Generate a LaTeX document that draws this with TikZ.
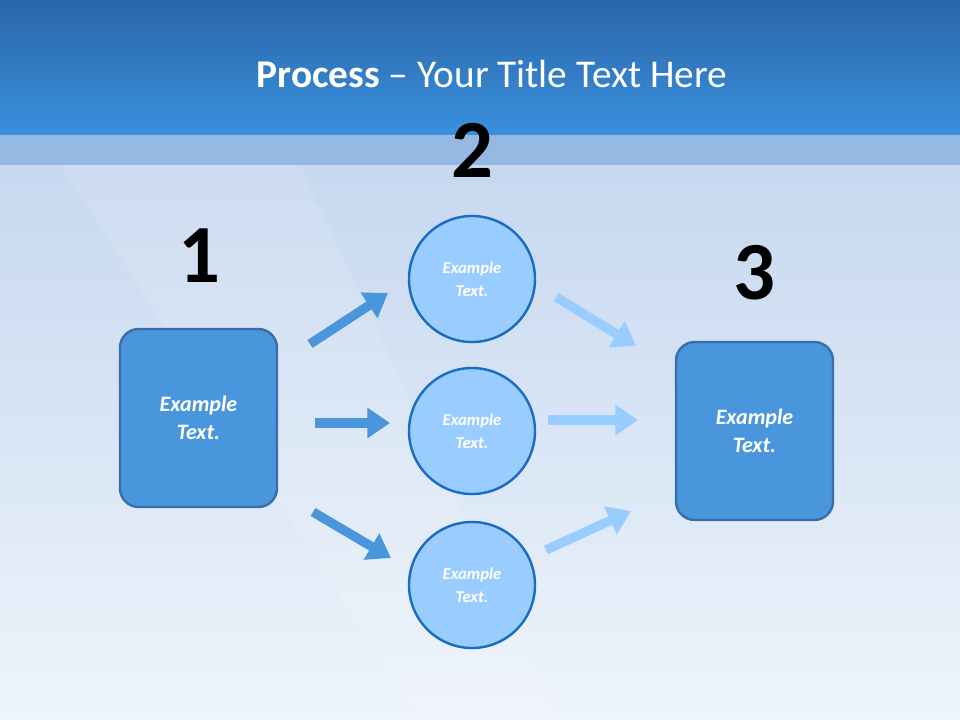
\documentclass[tikz,border=0pt]{standalone}
\usepackage{fontspec}
\setmainfont{Carlito}
\usetikzlibrary{arrows.meta}
\definecolor{hdtop}{HTML}{2A66A8}
\definecolor{hdbot}{HTML}{3A90DE}
\definecolor{band}{HTML}{96B9E4}
\definecolor{bgA}{HTML}{C4D6EF}
\definecolor{bgB}{HTML}{EEF4FB}
\definecolor{boxfill}{HTML}{4A96DC}
\definecolor{boxline}{HTML}{3A6EA8}
\definecolor{circfill}{HTML}{99CCFF}
\definecolor{circline}{HTML}{1A6BC4}
\tikzset{
  sqbox/.style={draw=boxline,line width=1.8pt,fill=boxfill,rounded corners=14pt,minimum width=117.75pt,minimum height=133.5pt,align=center,text=white,font=\bfseries\itshape\fontsize{16.5}{21}\selectfont},
  circ/.style={circle,draw=circline,line width=1.8pt,fill=circfill,minimum size=94.5pt,align=center,text=white,font=\bfseries\itshape\fontsize{12.5}{17}\selectfont},
  num/.style={font=\bfseries\fontsize{62}{66}\selectfont,text=black},
  darr/.style={line width=7pt,draw=boxfill,-{Triangle[length=17pt,width=22pt]}},
  larr/.style={line width=7pt,draw=circfill,-{Triangle[length=17pt,width=22pt]}}
}
\begin{document}
\begin{tikzpicture}[x=0.75pt,y=-0.75pt]
\useasboundingbox (0,0) rectangle (960,720);
\shade[top color=bgA,bottom color=bgB] (0,135) rectangle (960,720);
\fill[white,opacity=0.12] (60,165) -- (300,165) -- (560,720) -- (420,720) -- cycle;
\fill[band] (0,135) rectangle (960,165);
\shade[top color=hdtop,bottom color=hdbot] (0,0) rectangle (960,135);
\node[text=white,font=\fontsize{29.5}{34}\selectfont] (title) at (492,74) {\textbf{Process} -- Your Title Text Here};
\node[num] (n1) at (199,256) {1};
\node[num] (n2) at (472,150) {2};
\node[num] (n3) at (754,273) {3};
\node[sqbox] (b1) at (198.5,418) {Example\\Text.};
\node[sqbox] (b3) at (754.5,431) {Example\\Text.};
\node[circ] (c1) at (472,279) {Example\\Text.};
\node[circ] (c2) at (472,431) {Example\\Text.};
\node[circ] (c3) at (472,585) {Example\\Text.};
\coordinate (a1s) at (310,344); \coordinate (a1e) at (388,293);
\coordinate (a2s) at (315,423); \coordinate (a2e) at (390,423);
\coordinate (a3s) at (313,512); \coordinate (a3e) at (391,558);
\coordinate (r1s) at (556,297); \coordinate (r1e) at (636,346);
\coordinate (r2s) at (548,420); \coordinate (r2e) at (638,420);
\coordinate (r3s) at (546,550); \coordinate (r3e) at (631,511);
\draw[darr] (a1s) -- (a1e);
\draw[darr] (a2s) -- (a2e);
\draw[darr] (a3s) -- (a3e);
\draw[larr] (r1s) -- (r1e);
\draw[larr] (r2s) -- (r2e);
\draw[larr] (r3s) -- (r3e);
\end{tikzpicture}
\end{document}
